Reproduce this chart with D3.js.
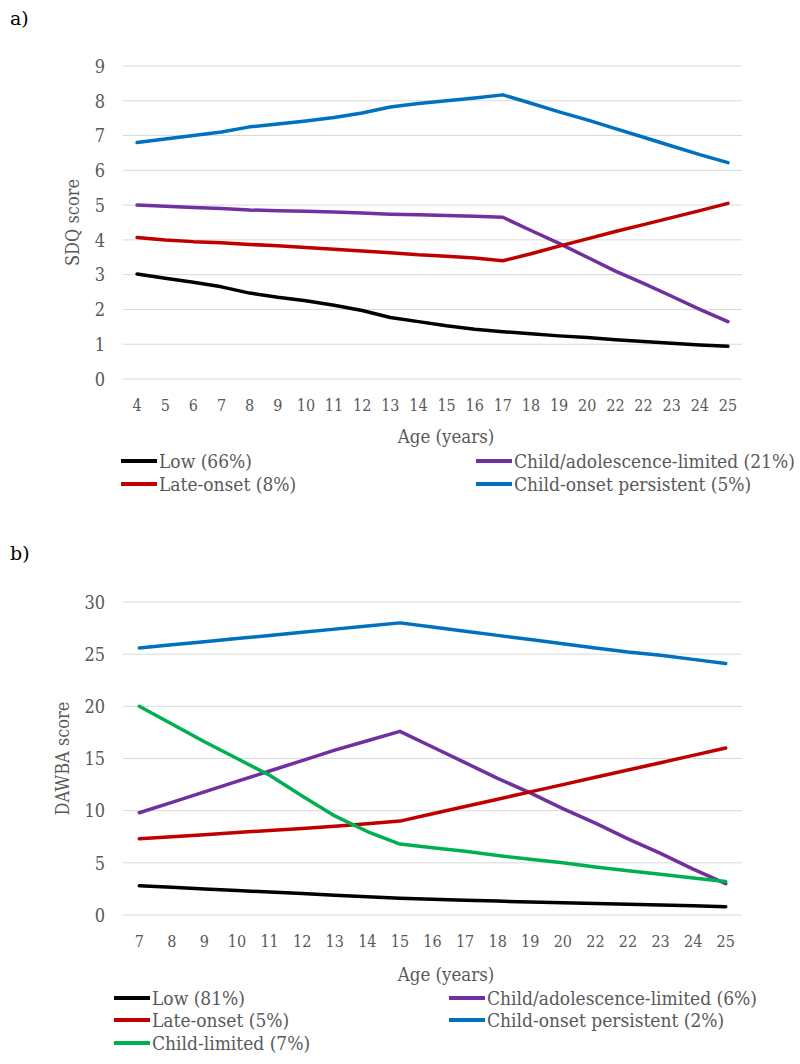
<!DOCTYPE html>
<html>
<head>
<meta charset="utf-8">
<script src="https://cdn.jsdelivr.net/npm/d3@7"></script>
<style>
  body { margin: 0; background: #fff; }
  svg { display: block; }
  text { font-family: "DejaVu Serif Condensed", "DejaVu Serif", serif; font-stretch: condensed; }
</style>
</head>
<body>
<svg id="chart" width="800" height="1064"></svg>
<script>
// ---------- Panel a data (SDQ) ----------
const agesA = ["4","5","6","7","8","9","10","11","12","13","14","15","16","17","18","19","20","22","22","23","24","25"];
const yTicksA = [0,1,2,3,4,5,6,7,8,9];
const lowA      = [3.02,2.90,2.78,2.65,2.47,2.35,2.25,2.12,1.97,1.77,1.65,1.53,1.43,1.36,1.30,1.24,1.19,1.13,1.08,1.03,0.98,0.94];
const childAdolA= [5.00,4.97,4.93,4.90,4.86,4.84,4.82,4.80,4.77,4.74,4.72,4.70,4.68,4.65,4.27,3.90,3.50,3.10,2.75,2.38,2.00,1.65];
const lateA     = [4.07,4.00,3.95,3.92,3.87,3.83,3.78,3.73,3.68,3.63,3.57,3.53,3.48,3.40,3.60,3.82,4.03,4.24,4.44,4.64,4.84,5.05];
const persistA  = [6.80,6.90,7.00,7.10,7.25,7.33,7.42,7.52,7.65,7.82,7.92,8.00,8.08,8.17,7.93,7.68,7.45,7.20,6.95,6.70,6.45,6.22];
const legendA   = ["Low (66%)","Child/adolescence-limited (21%)","Late-onset (8%)","Child-onset persistent (5%)"];

// ---------- Panel b data (DAWBA) ----------
const agesB = ["7","8","9","10","11","12","13","14","15","16","17","18","19","20","22","22","23","24","25"];
const yTicksB = [0,5,10,15,20,25,30];
const lowB      = [2.80,2.65,2.50,2.35,2.20,2.05,1.90,1.75,1.60,1.50,1.42,1.33,1.25,1.18,1.10,1.03,0.96,0.88,0.80];
const childAdolB= [9.8,10.8,11.8,12.8,13.8,14.8,15.8,16.7,17.6,16.1,14.6,13.1,11.7,10.2,8.8,7.3,5.9,4.4,3.0];
const lateB     = [7.3,7.5,7.7,7.9,8.1,8.3,8.5,8.75,9.0,9.7,10.4,11.1,11.8,12.5,13.2,13.9,14.6,15.3,16.0];
const persistB  = [25.6,25.9,26.2,26.5,26.8,27.1,27.4,27.7,28.0,27.6,27.2,26.8,26.4,26.0,25.6,25.2,24.9,24.5,24.1];
const childLimB = [20.0,18.3,16.6,15.0,13.4,11.4,9.5,8.0,6.8,6.45,6.1,5.7,5.35,5.0,4.6,4.25,3.9,3.55,3.2];
const legendB   = ["Low (81%)","Child/adolescence-limited (6%)","Late-onset (5%)","Child-onset persistent (2%)","Child-limited (7%)"];

const COLORS = { low: "#000000", adol: "#7030a0", late: "#c00000", persist: "#0070c0", child: "#00b050" };
const GRAY = "#595959";

const svg = d3.select("#chart");

function drawPanel(cfg) {
  const g = svg.append("g");
  const x = d3.scaleBand().domain(d3.range(cfg.ages.length)).range([cfg.left, cfg.right]);
  const y = d3.scaleLinear().domain([0, cfg.yMax]).range([cfg.bottom, cfg.top]);

  // panel letter
  g.append("text").attr("x", 10).attr("y", cfg.letterY).attr("font-size", 19).attr("fill", "#000")
    .style("font-family", "'DejaVu Serif', serif").style("font-stretch", "normal").text(cfg.letter);

  // gridlines
  g.append("g").selectAll("line").data(cfg.yTicks).join("line")
    .attr("x1", cfg.left).attr("x2", cfg.right)
    .attr("y1", d => y(d)).attr("y2", d => y(d))
    .attr("stroke", "#d9d9d9").attr("stroke-width", 1);

  // y axis labels
  const yAxis = d3.axisLeft(y).tickValues(cfg.yTicks).tickSize(0).tickPadding(0);
  const ya = g.append("g").attr("transform", `translate(${cfg.left - 18},0)`).call(yAxis);
  ya.select(".domain").remove();
  ya.selectAll("text").attr("fill", GRAY).attr("font-size", 18).attr("dy", "0.35em")
    .style("font-family", "'DejaVu Serif Condensed', serif");

  // x axis labels
  const xAxis = d3.axisBottom(x).tickFormat(i => cfg.ages[i]).tickSize(0).tickPadding(0);
  const xa = g.append("g").attr("transform", `translate(0,${cfg.xLabelY})`).call(xAxis);
  xa.select(".domain").remove();
  xa.selectAll("text").attr("fill", GRAY).attr("font-size", 16).attr("dy", "0.35em")
    .style("font-family", "'DejaVu Serif Condensed', serif");

  // axis titles
  g.append("text").attr("x", 446).attr("y", cfg.xTitleY).attr("text-anchor", "middle")
    .attr("font-size", 18.5).attr("fill", GRAY).text("Age (years)");
  g.append("text").attr("transform", `translate(${cfg.yTitleX},${(cfg.top + cfg.bottom) / 2}) rotate(-90)`)
    .attr("text-anchor", "middle").attr("font-size", 18).attr("fill", GRAY).text(cfg.yTitle);

  // lines
  const line = d3.line().x((d, i) => x(i) + x.bandwidth() / 2).y(d => y(d));
  cfg.series.forEach(s => {
    g.append("path").datum(s.values).attr("d", line)
      .attr("fill", "none").attr("stroke", s.color).attr("stroke-width", 3.5)
      .attr("stroke-linejoin", "round").attr("stroke-linecap", "round");
  });

  // legend
  cfg.legend.forEach((item, k) => {
    const col = k % 2, row = Math.floor(k / 2);
    const lx = cfg.legendX[col], ly = cfg.legendY[row];
    g.append("line").attr("x1", lx).attr("x2", lx + 36).attr("y1", ly).attr("y2", ly)
      .attr("stroke", item.color).attr("stroke-width", 4);
    g.append("text").attr("x", lx + 38).attr("y", ly).attr("dy", "0.35em")
      .attr("font-size", 19).attr("fill", GRAY).text(item.label);
  });
}

drawPanel({
  letter: "a)", letterY: 25,
  ages: agesA, yTicks: yTicksA, yMax: 9,
  left: 123, right: 742, top: 66, bottom: 379,
  xLabelY: 405, xTitleY: 443, yTitleX: 79, yTitle: "SDQ score",
  series: [
    { values: lowA, color: COLORS.low },
    { values: childAdolA, color: COLORS.adol },
    { values: lateA, color: COLORS.late },
    { values: persistA, color: COLORS.persist }
  ],
  legend: [
    { label: legendA[0], color: COLORS.low },
    { label: legendA[1], color: COLORS.adol },
    { label: legendA[2], color: COLORS.late },
    { label: legendA[3], color: COLORS.persist }
  ],
  legendX: [121, 476], legendY: [461, 484]
});

drawPanel({
  letter: "b)", letterY: 560,
  ages: agesB, yTicks: yTicksB, yMax: 30,
  left: 123, right: 742, top: 602, bottom: 915,
  xLabelY: 941, xTitleY: 981, yTitleX: 69, yTitle: "DAWBA score",
  series: [
    { values: lowB, color: COLORS.low },
    { values: childAdolB, color: COLORS.adol },
    { values: lateB, color: COLORS.late },
    { values: persistB, color: COLORS.persist },
    { values: childLimB, color: COLORS.child }
  ],
  legend: [
    { label: legendB[0], color: COLORS.low },
    { label: legendB[1], color: COLORS.adol },
    { label: legendB[2], color: COLORS.late },
    { label: legendB[3], color: COLORS.persist },
    { label: legendB[4], color: COLORS.child }
  ],
  legendX: [114, 449], legendY: [998, 1020, 1043]
});
</script>
</body>
</html>
